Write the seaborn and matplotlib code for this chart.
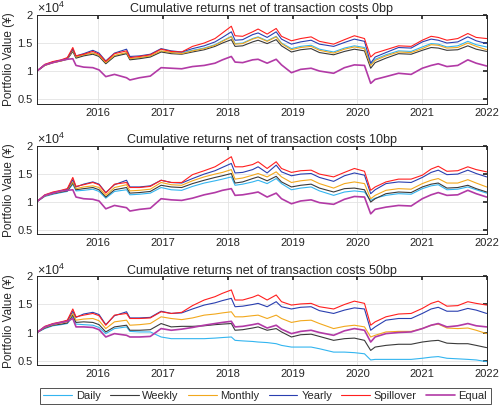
import pandas as pd
import seaborn as sns
import matplotlib.pyplot as plt
import matplotlib.dates as mdates
from matplotlib.ticker import FuncFormatter

# dates (roughly every 6-8 weeks, plus turning points)
dates = ["2015-01-20", "2015-03-05", "2015-04-20", "2015-06-05", "2015-07-10",
         "2015-08-10", "2015-08-28", "2015-10-10", "2015-12-01", "2016-01-05",
         "2016-02-12", "2016-04-01", "2016-06-08", "2016-06-27", "2016-08-20",
         "2016-10-20", "2016-12-20", "2017-02-15", "2017-04-15", "2017-06-15",
         "2017-08-20", "2017-10-20", "2017-12-01", "2018-01-20", "2018-02-10",
         "2018-03-25", "2018-05-20", "2018-06-20", "2018-08-10", "2018-09-30",
         "2018-10-30", "2018-12-25", "2019-02-15", "2019-04-15", "2019-06-01",
         "2019-08-20", "2019-10-20", "2019-12-15", "2020-02-10", "2020-03-16",
         "2020-04-10", "2020-06-10", "2020-08-20", "2020-10-30", "2021-01-01",
         "2021-02-20", "2021-04-01", "2021-05-20", "2021-07-20", "2021-09-15",
         "2021-11-01", "2021-12-30"]

strategies = ["Daily", "Weekly", "Monthly", "Yearly", "Spillover", "Equal"]
costs = ["0bp", "10bp", "50bp"]

# portfolio values, units of 10^4
daily_0 = [1.00, 1.11, 1.16, 1.19, 1.22, 1.36, 1.24, 1.28, 1.32, 1.27, 1.14, 1.27, 1.32, 1.21, 1.23, 1.26, 1.35, 1.33,
           1.32, 1.37, 1.41, 1.47, 1.54, 1.62, 1.49, 1.50, 1.58, 1.61, 1.54, 1.62, 1.50, 1.40, 1.44, 1.46, 1.39, 1.34,
           1.41, 1.45, 1.42, 1.12, 1.21, 1.29, 1.36, 1.35, 1.43, 1.49, 1.48, 1.43, 1.45, 1.53, 1.47, 1.43]
weekly_0 = [1.00, 1.10, 1.15, 1.18, 1.21, 1.35, 1.23, 1.27, 1.30, 1.26, 1.13, 1.26, 1.31, 1.20, 1.22, 1.25, 1.34, 1.31,
            1.30, 1.34, 1.38, 1.44, 1.50, 1.56, 1.44, 1.45, 1.52, 1.55, 1.49, 1.56, 1.45, 1.34, 1.38, 1.40, 1.33, 1.29,
            1.35, 1.39, 1.36, 1.05, 1.15, 1.23, 1.31, 1.30, 1.37, 1.42, 1.41, 1.37, 1.38, 1.45, 1.39, 1.35]
monthly_0 = [1.00, 1.10, 1.15, 1.18, 1.22, 1.37, 1.25, 1.29, 1.32, 1.28, 1.15, 1.28, 1.33, 1.22, 1.24, 1.27, 1.36, 1.33,
             1.31, 1.36, 1.40, 1.46, 1.53, 1.61, 1.48, 1.49, 1.57, 1.60, 1.53, 1.61, 1.49, 1.38, 1.42, 1.44, 1.37, 1.32,
             1.39, 1.43, 1.40, 1.10, 1.19, 1.27, 1.34, 1.33, 1.40, 1.47, 1.46, 1.41, 1.42, 1.50, 1.44, 1.38]
yearly_0 = [1.00, 1.11, 1.16, 1.19, 1.23, 1.39, 1.27, 1.31, 1.37, 1.32, 1.18, 1.32, 1.39, 1.26, 1.27, 1.30, 1.40, 1.36,
            1.34, 1.40, 1.45, 1.52, 1.60, 1.70, 1.55, 1.56, 1.65, 1.68, 1.60, 1.70, 1.57, 1.48, 1.52, 1.55, 1.48, 1.44,
            1.51, 1.57, 1.53, 1.14, 1.25, 1.33, 1.42, 1.41, 1.52, 1.57, 1.55, 1.50, 1.52, 1.61, 1.54, 1.49]
spill_0 = [1.00, 1.12, 1.17, 1.20, 1.24, 1.42, 1.27, 1.30, 1.35, 1.30, 1.17, 1.31, 1.36, 1.24, 1.26, 1.29, 1.39, 1.35,
           1.34, 1.44, 1.50, 1.58, 1.68, 1.80, 1.63, 1.62, 1.70, 1.75, 1.66, 1.76, 1.62, 1.54, 1.58, 1.61, 1.53, 1.48,
           1.56, 1.63, 1.58, 1.25, 1.32, 1.38, 1.45, 1.44, 1.55, 1.62, 1.60, 1.55, 1.58, 1.67, 1.60, 1.58]
equal_0 = [1.00, 1.11, 1.15, 1.19, 1.21, 1.22, 1.10, 1.07, 1.06, 1.02, 0.90, 0.94, 0.88, 0.84, 0.88, 0.91, 1.06, 1.05,
           1.04, 1.08, 1.10, 1.14, 1.20, 1.26, 1.16, 1.15, 1.20, 1.21, 1.14, 1.21, 1.11, 0.97, 1.03, 1.05, 1.00, 0.96,
           1.06, 1.11, 1.10, 0.78, 0.85, 0.90, 0.96, 0.94, 1.05, 1.10, 1.13, 1.08, 1.10, 1.20, 1.14, 1.09]

daily_10 = [1.00, 1.09, 1.13, 1.16, 1.18, 1.31, 1.19, 1.20, 1.22, 1.18, 1.06, 1.18, 1.21, 1.12, 1.13, 1.15, 1.25, 1.21,
            1.20, 1.27, 1.33, 1.37, 1.40, 1.44, 1.29, 1.31, 1.35, 1.38, 1.32, 1.41, 1.32, 1.21, 1.24, 1.26, 1.19, 1.11,
            1.17, 1.19, 1.17, 1.02, 1.06, 1.11, 1.14, 1.13, 1.23, 1.28, 1.30, 1.21, 1.22, 1.26, 1.21, 1.15]
weekly_10 = [1.00, 1.10, 1.14, 1.17, 1.19, 1.33, 1.21, 1.23, 1.25, 1.21, 1.08, 1.21, 1.25, 1.15, 1.16, 1.18, 1.29, 1.26,
             1.25, 1.32, 1.38, 1.43, 1.46, 1.50, 1.33, 1.35, 1.41, 1.44, 1.37, 1.45, 1.35, 1.26, 1.29, 1.31, 1.24, 1.17,
             1.23, 1.24, 1.21, 0.99, 1.05, 1.14, 1.17, 1.16, 1.26, 1.31, 1.33, 1.24, 1.25, 1.29, 1.23, 1.17]
monthly_10 = [1.00, 1.10, 1.15, 1.18, 1.21, 1.35, 1.23, 1.26, 1.28, 1.25, 1.11, 1.25, 1.30, 1.19, 1.20, 1.22, 1.34, 1.30,
              1.29, 1.37, 1.44, 1.49, 1.52, 1.57, 1.40, 1.42, 1.47, 1.50, 1.44, 1.53, 1.44, 1.34, 1.37, 1.39, 1.32, 1.24,
              1.32, 1.35, 1.32, 1.05, 1.11, 1.20, 1.23, 1.22, 1.32, 1.38, 1.41, 1.33, 1.33, 1.39, 1.33, 1.26]
yearly_10 = [1.00, 1.11, 1.16, 1.19, 1.22, 1.39, 1.26, 1.31, 1.35, 1.31, 1.16, 1.30, 1.38, 1.26, 1.26, 1.28, 1.38, 1.34,
             1.33, 1.41, 1.49, 1.55, 1.61, 1.68, 1.51, 1.52, 1.57, 1.62, 1.51, 1.65, 1.53, 1.46, 1.49, 1.50, 1.43, 1.36,
             1.46, 1.51, 1.47, 1.14, 1.21, 1.32, 1.35, 1.34, 1.43, 1.52, 1.56, 1.48, 1.49, 1.56, 1.50, 1.44]
spill_10 = [1.00, 1.12, 1.17, 1.20, 1.23, 1.43, 1.27, 1.30, 1.34, 1.30, 1.15, 1.31, 1.34, 1.25, 1.25, 1.27, 1.38, 1.34,
            1.34, 1.48, 1.55, 1.62, 1.70, 1.80, 1.62, 1.62, 1.66, 1.71, 1.59, 1.71, 1.59, 1.52, 1.55, 1.56, 1.49, 1.44,
            1.52, 1.59, 1.54, 1.20, 1.26, 1.35, 1.40, 1.40, 1.47, 1.58, 1.63, 1.54, 1.55, 1.62, 1.57, 1.53]
equal_10 = [1.00, 1.11, 1.15, 1.19, 1.20, 1.21, 1.08, 1.05, 1.04, 1.01, 0.87, 0.93, 0.89, 0.83, 0.86, 0.88, 1.05, 1.03,
            1.02, 1.06, 1.12, 1.16, 1.20, 1.23, 1.11, 1.12, 1.15, 1.17, 1.08, 1.15, 1.05, 0.96, 1.01, 1.03, 0.98, 0.95,
            1.04, 1.09, 1.08, 0.78, 0.86, 0.90, 0.93, 0.92, 1.05, 1.12, 1.16, 1.11, 1.12, 1.20, 1.14, 1.08]

daily_50 = [1.00, 1.07, 1.12, 1.14, 1.16, 1.28, 1.15, 1.14, 1.13, 1.09, 0.98, 1.07, 1.10, 1.02, 1.01, 1.01, 0.92, 0.89,
            0.89, 0.89, 0.89, 0.90, 0.91, 0.92, 0.86, 0.85, 0.84, 0.83, 0.82, 0.80, 0.77, 0.74, 0.74, 0.74, 0.71, 0.65,
            0.65, 0.64, 0.62, 0.51, 0.52, 0.52, 0.52, 0.52, 0.54, 0.56, 0.57, 0.54, 0.53, 0.52, 0.51, 0.48]
weekly_50 = [1.00, 1.08, 1.13, 1.15, 1.17, 1.31, 1.18, 1.19, 1.18, 1.14, 1.01, 1.10, 1.13, 1.04, 1.04, 1.05, 1.16, 1.10,
             1.11, 1.11, 1.12, 1.14, 1.15, 1.16, 1.04, 1.05, 1.08, 1.10, 1.04, 1.07, 1.01, 0.92, 0.96, 0.97, 0.93, 0.86,
             0.89, 0.90, 0.86, 0.68, 0.74, 0.77, 0.79, 0.79, 0.83, 0.85, 0.86, 0.81, 0.80, 0.80, 0.77, 0.73]
monthly_50 = [1.00, 1.09, 1.14, 1.17, 1.19, 1.34, 1.22, 1.24, 1.25, 1.21, 1.07, 1.19, 1.22, 1.13, 1.14, 1.16, 1.28, 1.25,
              1.23, 1.26, 1.31, 1.33, 1.35, 1.37, 1.28, 1.28, 1.30, 1.31, 1.25, 1.31, 1.25, 1.18, 1.21, 1.22, 1.16, 1.07,
              1.11, 1.13, 1.10, 0.92, 0.95, 1.01, 1.02, 1.02, 1.07, 1.13, 1.15, 1.08, 1.07, 1.08, 1.04, 0.98]
yearly_50 = [1.00, 1.10, 1.15, 1.18, 1.21, 1.38, 1.27, 1.33, 1.36, 1.32, 1.14, 1.30, 1.37, 1.26, 1.26, 1.27, 1.38, 1.34,
             1.35, 1.42, 1.49, 1.53, 1.57, 1.61, 1.46, 1.47, 1.50, 1.52, 1.46, 1.55, 1.46, 1.42, 1.45, 1.46, 1.39, 1.34,
             1.40, 1.44, 1.42, 1.04, 1.10, 1.22, 1.25, 1.25, 1.34, 1.42, 1.45, 1.38, 1.38, 1.43, 1.40, 1.34]
spill_50 = [1.00, 1.11, 1.16, 1.19, 1.22, 1.42, 1.28, 1.31, 1.34, 1.30, 1.13, 1.31, 1.34, 1.25, 1.25, 1.26, 1.37, 1.34,
            1.36, 1.48, 1.58, 1.64, 1.70, 1.76, 1.58, 1.58, 1.63, 1.67, 1.58, 1.67, 1.55, 1.49, 1.51, 1.52, 1.46, 1.42,
            1.50, 1.56, 1.52, 1.13, 1.19, 1.28, 1.33, 1.34, 1.43, 1.52, 1.56, 1.47, 1.48, 1.55, 1.52, 1.49]
equal_50 = [1.00, 1.10, 1.15, 1.18, 1.20, 1.25, 1.10, 1.10, 1.09, 1.05, 0.92, 0.98, 0.95, 0.92, 0.92, 0.93, 1.07, 1.04,
            1.06, 1.09, 1.13, 1.16, 1.18, 1.20, 1.10, 1.11, 1.14, 1.16, 1.08, 1.13, 1.06, 0.98, 1.02, 1.04, 1.00, 0.95,
            1.03, 1.07, 1.04, 0.83, 0.92, 0.98, 1.00, 1.01, 1.07, 1.13, 1.16, 1.10, 1.12, 1.16, 1.12, 1.10]

series = {
    "0bp": [daily_0, weekly_0, monthly_0, yearly_0, spill_0, equal_0],
    "10bp": [daily_10, weekly_10, monthly_10, yearly_10, spill_10, equal_10],
    "50bp": [daily_50, weekly_50, monthly_50, yearly_50, spill_50, equal_50],
}

palette = {"Daily": "#33b5f0", "Weekly": "#3a3a3a", "Monthly": "#f2a81d",
           "Yearly": "#2a3fb0", "Spillover": "#ff1f1f", "Equal": "#b23aa6"}

# long format table
rows = []
for cost in costs:
    for name, vals in zip(strategies, series[cost]):
        for d, v in zip(dates, vals):
            rows.append({"cost": cost, "strategy": name, "date": pd.Timestamp(d), "value": v * 1e4})
df = pd.DataFrame(rows)

sns.set_theme(style="whitegrid")
plt.rcParams["font.family"] = ["Liberation Sans", "DejaVu Sans"]
plt.rcParams["mathtext.fontset"] = "custom"
plt.rcParams["mathtext.rm"] = "Liberation Sans"

fig = plt.figure(figsize=(5.0, 4.05), dpi=100)
bottoms = [0.7444, 0.4222, 0.0988]
axes = [fig.add_axes([0.074, b, 0.9, 0.2185]) for b in bottoms]

for i, (ax, cost) in enumerate(zip(axes, costs)):
    sub = df[df["cost"] == cost]
    for name in strategies:
        s = sub[sub["strategy"] == name]
        sns.lineplot(data=s, x="date", y="value", ax=ax, color=palette[name],
                     linewidth=1.2 if name == "Equal" else 0.8, label=name,
                     legend=(i == 2))
    ax.set_xlim(pd.Timestamp("2015-01-20"), pd.Timestamp("2022-01-01"))
    ax.set_ylim(4200, 20000)
    ax.set_yticks([5000, 10000, 15000, 20000])
    ax.yaxis.set_major_formatter(FuncFormatter(lambda v, p: f"{v / 1e4:g}"))
    ax.xaxis.set_major_locator(mdates.YearLocator())
    ax.xaxis.set_major_formatter(mdates.DateFormatter("%Y"))
    ax.set_xlabel("")
    ax.set_ylabel("Portfolio Value (¥)", fontsize=8.5, labelpad=2)
    ax.set_title(f"Cumulative returns net of transaction costs {cost}", fontsize=9, pad=2)
    ax.text(0.0, 0.985, r"$\times\mathrm{10}^{4}$", transform=ax.transAxes, fontsize=9,
            ha="left", va="bottom")
    ax.grid(True, color="#e3e3e3", linewidth=0.6)
    ax.tick_params(axis="both", labelsize=8, direction="in", length=3, pad=3,
                   top=True, right=True, color="#262626")
    for sp in ax.spines.values():
        sp.set_edgecolor("#262626")
        sp.set_linewidth(0.7)

sns.move_legend(axes[2], loc="center", bbox_to_anchor=(0.507, -0.35), ncol=6, title=None,
                frameon=True, fancybox=False, fontsize=8, handlelength=2.6, columnspacing=0.8,
                handletextpad=0.35, borderpad=0.3, edgecolor="#262626")
axes[2].get_legend().get_frame().set_linewidth(0.7)

fig.savefig("out.png", dpi=100)
